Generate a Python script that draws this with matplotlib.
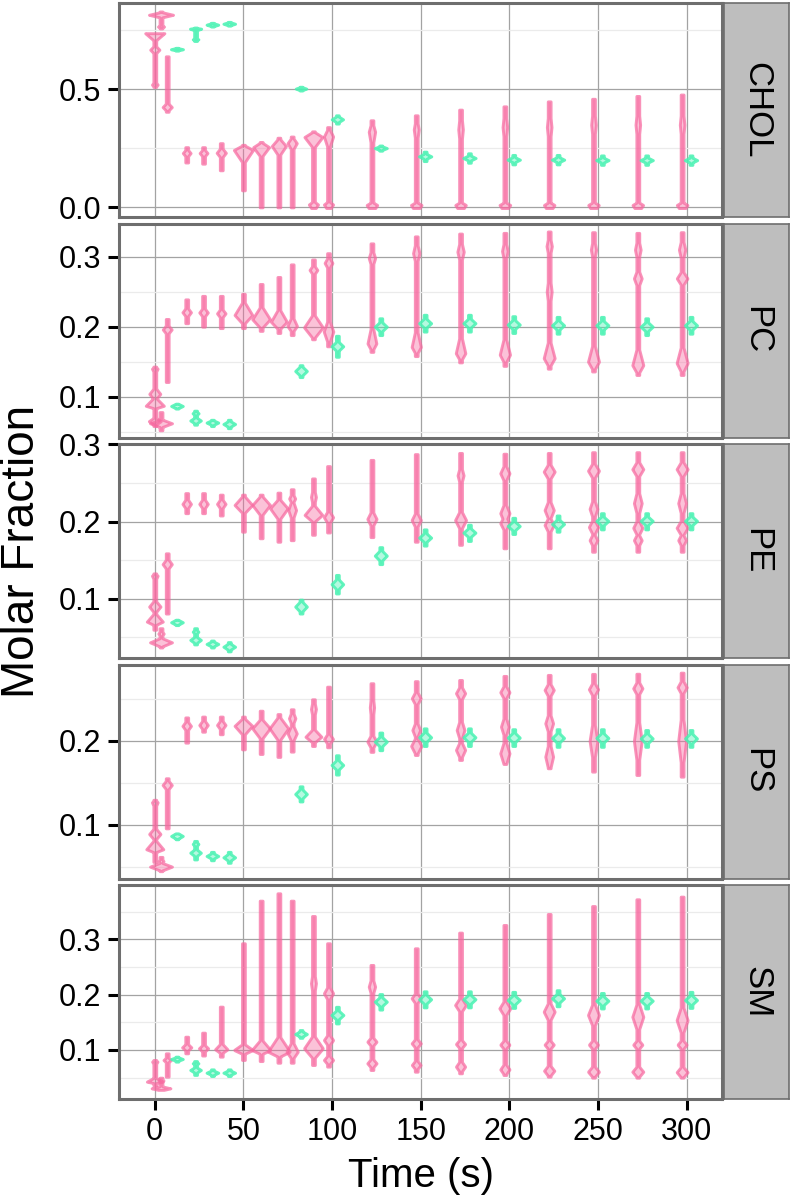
import numpy as np
import matplotlib
matplotlib.use('Agg')
import matplotlib.pyplot as plt
from matplotlib.colors import to_rgba

plt.rcParams['font.family'] = ['Liberation Sans', 'DejaVu Sans']

# time positions of the two series
PINK_T = [0, 3.5, 7, 18, 27.5, 37.5, 50, 60, 70, 77.5, 89.5, 98, 122.5,
          147.5, 172.5, 197.5, 222.5, 247.5, 272.5, 297.5]
GREEN_T = [12.5, 23, 32.5, 42, 82.5, 103, 127.5, 152.5, 177.5, 202.5,
           227.5, 252.5, 277.5, 302.5]

PANELS = ['CHOL', 'PC', 'PE', 'PS', 'SM']

# violins: (ymin, ymax, [(center, halfwidth, halfheight[, halfheight_up]), ...])
CHOL_PINK = [
    (0.51, 0.738, [(0.738, 5.4, 0.035, 0.001), (0.668, 2.6, 0.02), (0.52, 1.6, 0.015)]),
    (0.758, 0.83, [(0.816, 6.8, 0.012), (0.766, 1.7, 0.008)]),
    (0.405, 0.64, [(0.425, 2.6, 0.02)]),
    (0.19, 0.255, [(0.23, 2.2, 0.02)]),
    (0.185, 0.255, [(0.23, 2.2, 0.02)]),
    (0.157, 0.272, [(0.231, 2.6, 0.025)]),
    (0.072, 0.265, [(0.243, 5.4, 0.06, 0.022)]),
    (0.0, 0.277, [(0.255, 4.5, 0.045, 0.022)]),
    (0.0, 0.295, [(0.26, 4.0, 0.045, 0.035)]),
    (0.0, 0.30, [(0.272, 2.6, 0.035, 0.028)]),
    (-0.003, 0.322, [(0.298, 5.1, 0.05, 0.024), (0.012, 2.6, 0.03, 0.015)]),
    (-0.003, 0.34, [(0.30, 2.6, 0.06, 0.04), (0.012, 2.6, 0.03, 0.015)]),
    (-0.003, 0.369, [(0.32, 1.8, 0.08, 0.05), (0.01, 3.0, 0.035, 0.013)]),
    (-0.003, 0.39, [(0.33, 1.4, 0.08, 0.06), (0.01, 3.0, 0.035, 0.013)]),
    (-0.003, 0.414, [(0.33, 1.3, 0.1), (0.01, 3.0, 0.035, 0.013)]),
    (-0.003, 0.428, [(0.34, 1.3, 0.1), (0.01, 3.0, 0.035, 0.013)]),
    (-0.003, 0.449, [(0.34, 1.3, 0.1), (0.01, 3.0, 0.035, 0.013)]),
    (-0.003, 0.46, [(0.35, 1.3, 0.1), (0.01, 3.0, 0.035, 0.013)]),
    (-0.003, 0.472, [(0.35, 1.3, 0.1), (0.01, 3.0, 0.035, 0.013)]),
    (-0.003, 0.478, [(0.35, 1.3, 0.1), (0.01, 3.0, 0.035, 0.013)]),
]
CHOL_GREEN = [
    (0.664, 0.676, [(0.67, 3.4, 0.006)]),
    (0.705, 0.762, [(0.757, 3.2, 0.008, 0.004), (0.712, 1.6, 0.006)]),
    (0.766, 0.782, [(0.774, 3.3, 0.008)]),
    (0.77, 0.786, [(0.778, 3.3, 0.008)]),
    (0.495, 0.511, [(0.503, 3.0, 0.008)]),
    (0.355, 0.39, [(0.373, 3.2, 0.015)]),
    (0.24, 0.262, [(0.251, 3.4, 0.01)]),
    (0.196, 0.236, [(0.216, 3.5, 0.013)]),
    (0.189, 0.229, [(0.209, 3.5, 0.013)]),
    (0.182, 0.222, [(0.202, 3.5, 0.013)]),
    (0.182, 0.222, [(0.202, 3.5, 0.013)]),
    (0.18, 0.22, [(0.20, 3.5, 0.013)]),
    (0.18, 0.22, [(0.20, 3.5, 0.013)]),
    (0.18, 0.22, [(0.20, 3.5, 0.013)]),
]

PC_PINK = [
    (0.058, 0.143, [(0.14, 1.6, 0.008, 0.003), (0.104, 3.1, 0.01), (0.087, 5.1, 0.004, 0.013), (0.065, 3.4, 0.006)]),
    (0.052, 0.078, [(0.062, 6.2, 0.006)]),
    (0.121, 0.211, [(0.196, 2.5, 0.008)]),
    (0.205, 0.239, [(0.2206, 2.4, 0.008)]),
    (0.2, 0.244, [(0.2203, 2.4, 0.008)]),
    (0.198, 0.244, [(0.219, 2.4, 0.008)]),
    (0.198, 0.247, [(0.2167, 5.0, 0.014, 0.021)]),
    (0.194, 0.261, [(0.2106, 5.0, 0.014, 0.02)]),
    (0.191, 0.271, [(0.207, 4.5, 0.012, 0.02)]),
    (0.188, 0.289, [(0.201, 2.7, 0.01, 0.015)]),
    (0.182, 0.296, [(0.281, 2.2, 0.008), (0.199, 5.3, 0.017, 0.02)]),
    (0.172, 0.305, [(0.291, 2.2, 0.01), (0.193, 2.7, 0.02)]),
    (0.164, 0.319, [(0.298, 1.8, 0.015), (0.176, 2.5, 0.012, 0.03)]),
    (0.158, 0.329, [(0.305, 1.8, 0.02), (0.171, 2.6, 0.012, 0.03)]),
    (0.149, 0.333, [(0.307, 1.8, 0.02), (0.162, 2.7, 0.012, 0.03)]),
    (0.144, 0.334, [(0.308, 1.6, 0.02), (0.16, 2.9, 0.014, 0.03)]),
    (0.14, 0.336, [(0.315, 1.5, 0.02), (0.25, 1.4, 0.03), (0.155, 3.1, 0.014, 0.03)]),
    (0.136, 0.335, [(0.31, 1.5, 0.02), (0.15, 3.1, 0.014, 0.03)]),
    (0.131, 0.334, [(0.31, 1.6, 0.02), (0.269, 2.2, 0.015), (0.145, 3.1, 0.014, 0.03)]),
    (0.131, 0.335, [(0.31, 1.8, 0.02), (0.269, 3.0, 0.012), (0.148, 3.1, 0.016, 0.03)]),
]
PC_GREEN = [
    (0.083, 0.09, [(0.0867, 3.3, 0.004)]),
    (0.06, 0.08, [(0.0763, 1.7, 0.004), (0.066, 3.0, 0.005)]),
    (0.058, 0.067, [(0.063, 3.3, 0.004)]),
    (0.055, 0.067, [(0.061, 3.3, 0.005)]),
    (0.128, 0.145, [(0.1367, 3.3, 0.008)]),
    (0.157, 0.187, [(0.172, 3.3, 0.008)]),
    (0.188, 0.212, [(0.20, 3.4, 0.008)]),
    (0.193, 0.217, [(0.205, 3.4, 0.008)]),
    (0.193, 0.217, [(0.205, 3.4, 0.008)]),
    (0.191, 0.215, [(0.203, 3.4, 0.008)]),
    (0.19, 0.214, [(0.202, 3.4, 0.008)]),
    (0.19, 0.214, [(0.202, 3.4, 0.008)]),
    (0.188, 0.212, [(0.20, 3.4, 0.008)]),
    (0.19, 0.214, [(0.202, 3.4, 0.008)]),
]

PE_PINK = [
    (0.06, 0.133, [(0.13, 1.6, 0.008, 0.003), (0.09, 3.2, 0.009), (0.0705, 4.5, 0.005, 0.012)]),
    (0.037, 0.062, [(0.0437, 6.2, 0.006), (0.055, 1.5, 0.005)]),
    (0.081, 0.159, [(0.145, 2.6, 0.008)]),
    (0.211, 0.237, [(0.223, 2.4, 0.008)]),
    (0.211, 0.237, [(0.223, 2.4, 0.008)]),
    (0.208, 0.235, [(0.223, 2.4, 0.008)]),
    (0.187, 0.235, [(0.2216, 5.0, 0.012, 0.013)]),
    (0.1785, 0.235, [(0.2216, 5.0, 0.015, 0.013)]),
    (0.174, 0.2376, [(0.2173, 5.0, 0.016, 0.013)]),
    (0.176, 0.242, [(0.215, 2.2, 0.015), (0.23, 1.7, 0.008)]),
    (0.183, 0.256, [(0.232, 1.4, 0.015), (0.2087, 5.0, 0.01, 0.014)]),
    (0.186, 0.272, [(0.2057, 2.6, 0.01)]),
    (0.18, 0.28, [(0.2035, 2.6, 0.012)]),
    (0.174, 0.2875, [(0.202, 2.6, 0.012)]),
    (0.17, 0.289, [(0.26, 1.7, 0.015), (0.202, 3.1, 0.014)]),
    (0.1655, 0.288, [(0.2627, 2.6, 0.013), (0.211, 2.6, 0.015), (0.198, 2.6, 0.012)]),
    (0.1655, 0.289, [(0.2648, 3.1, 0.012), (0.215, 2.6, 0.015), (0.1957, 2.6, 0.012)]),
    (0.161, 0.29, [(0.266, 3.1, 0.012), (0.2166, 2.2, 0.015), (0.193, 2.6, 0.012), (0.176, 2.2, 0.01)]),
    (0.161, 0.29, [(0.268, 3.1, 0.012), (0.224, 2.2, 0.02), (0.192, 2.6, 0.012), (0.176, 2.2, 0.01)]),
    (0.161, 0.29, [(0.268, 3.1, 0.012), (0.224, 2.2, 0.02), (0.192, 3.1, 0.012), (0.176, 2.2, 0.01)]),
]
PE_GREEN = [
    (0.066, 0.073, [(0.0697, 3.3, 0.004)]),
    (0.041, 0.062, [(0.0575, 1.6, 0.004), (0.0468, 3.0, 0.005)]),
    (0.037, 0.046, [(0.0416, 3.3, 0.004)]),
    (0.032, 0.044, [(0.038, 3.3, 0.005)]),
    (0.081, 0.099, [(0.09, 3.3, 0.008)]),
    (0.107, 0.131, [(0.119, 3.3, 0.008)]),
    (0.145, 0.167, [(0.156, 3.4, 0.008)]),
    (0.169, 0.19, [(0.1793, 3.4, 0.007)]),
    (0.175, 0.196, [(0.1858, 3.4, 0.007)]),
    (0.184, 0.205, [(0.1944, 3.4, 0.007)]),
    (0.187, 0.208, [(0.197, 3.4, 0.007)]),
    (0.19, 0.211, [(0.2009, 3.4, 0.007)]),
    (0.19, 0.211, [(0.201, 3.4, 0.007)]),
    (0.19, 0.211, [(0.201, 3.4, 0.007)]),
]

PS_PINK = [
    (0.056, 0.13, [(0.127, 1.6, 0.008, 0.003), (0.0893, 3.2, 0.008), (0.0711, 4.8, 0.004, 0.012)]),
    (0.045, 0.062, [(0.0504, 6.2, 0.005), (0.057, 1.4, 0.004)]),
    (0.096, 0.1556, [(0.1476, 2.6, 0.007)]),
    (0.198, 0.228, [(0.2179, 2.4, 0.007)]),
    (0.211, 0.229, [(0.219, 2.4, 0.007)]),
    (0.208, 0.229, [(0.219, 2.4, 0.007)]),
    (0.19, 0.229, [(0.218, 5.0, 0.012, 0.01)]),
    (0.1845, 0.236, [(0.2151, 5.0, 0.014, 0.012)]),
    (0.181, 0.232, [(0.215, 5.3, 0.016, 0.015)]),
    (0.1873, 0.2377, [(0.209, 2.6, 0.012), (0.227, 1.8, 0.01)]),
    (0.194, 0.2496, [(0.238, 1.4, 0.015), (0.205, 4.5, 0.008, 0.01)]),
    (0.1925, 0.2646, [(0.2024, 2.5, 0.008)]),
    (0.187, 0.2687, [(0.1992, 2.6, 0.01), (0.24, 1.2, 0.025)]),
    (0.1833, 0.2712, [(0.2508, 2.5, 0.01), (0.213, 2.2, 0.012), (0.194, 2.9, 0.012)]),
    (0.1774, 0.2726, [(0.2568, 2.6, 0.01), (0.213, 2.2, 0.015), (0.1893, 2.6, 0.012)]),
    (0.1726, 0.2774, [(0.258, 2.6, 0.01), (0.217, 2.2, 0.015), (0.1853, 2.6, 0.018)]),
    (0.1675, 0.2786, [(0.2607, 2.6, 0.01), (0.221, 2.2, 0.015), (0.1813, 2.2, 0.02)]),
    (0.1635, 0.2798, [(0.2615, 2.6, 0.01), (0.2, 2.2, 0.03)]),
    (0.1595, 0.28, [(0.2627, 2.6, 0.01), (0.2, 2.2, 0.035)]),
    (0.1575, 0.2813, [(0.2639, 2.6, 0.01), (0.2, 2.2, 0.04)]),
]
PS_GREEN = [
    (0.083, 0.09, [(0.0869, 3.3, 0.004)]),
    (0.059, 0.081, [(0.0774, 1.6, 0.004), (0.067, 3.0, 0.005)]),
    (0.058, 0.068, [(0.0631, 3.3, 0.004)]),
    (0.055, 0.068, [(0.0615, 3.3, 0.005)]),
    (0.128, 0.146, [(0.1369, 3.3, 0.007)]),
    (0.16, 0.183, [(0.1714, 3.3, 0.007)]),
    (0.189, 0.21, [(0.1992, 3.4, 0.007)]),
    (0.194, 0.215, [(0.2044, 3.4, 0.007)]),
    (0.194, 0.215, [(0.2044, 3.4, 0.007)]),
    (0.194, 0.214, [(0.204, 3.4, 0.007)]),
    (0.193, 0.214, [(0.2036, 3.4, 0.007)]),
    (0.193, 0.214, [(0.2036, 3.4, 0.007)]),
    (0.193, 0.213, [(0.203, 3.4, 0.007)]),
    (0.193, 0.213, [(0.203, 3.4, 0.007)]),
]

SM_PINK = [
    (0.036, 0.082, [(0.079, 1.5, 0.008, 0.003), (0.0428, 4.5, 0.003, 0.008)]),
    (0.028, 0.05, [(0.0308, 5.3, 0.004), (0.045, 1.4, 0.004)]),
    (0.0518, 0.094, [(0.0819, 2.1, 0.006)]),
    (0.094, 0.124, [(0.1048, 2.6, 0.008)]),
    (0.09, 0.1313, [(0.103, 2.6, 0.008)]),
    (0.088, 0.1783, [(0.1012, 3.5, 0.008, 0.012)]),
    (0.082, 0.2928, [(0.1, 5.3, 0.008, 0.012)]),
    (0.08, 0.3697, [(0.1, 5.3, 0.008, 0.02)]),
    (0.077, 0.383, [(0.097, 6.2, 0.01, 0.03)]),
    (0.077, 0.3697, [(0.097, 3.2, 0.015, 0.02)]),
    (0.0729, 0.342, [(0.103, 5.3, 0.02, 0.025), (0.2205, 1.4, 0.03)]),
    (0.07, 0.2928, [(0.2024, 2.6, 0.015), (0.118, 2.6, 0.012), (0.082, 2.6, 0.01)]),
    (0.0639, 0.2536, [(0.2144, 1.8, 0.02), (0.115, 2.6, 0.01), (0.076, 2.6, 0.01)]),
    (0.0608, 0.2837, [(0.1934, 2.6, 0.012), (0.112, 2.6, 0.01), (0.073, 2.5, 0.01)]),
    (0.0579, 0.312, [(0.1813, 3.1, 0.015), (0.1108, 2.6, 0.01), (0.07, 2.6, 0.012)]),
    (0.0548, 0.3258, [(0.1753, 3.1, 0.016), (0.1096, 2.6, 0.01), (0.065, 2.6, 0.012)]),
    (0.0518, 0.3457, [(0.1692, 3.1, 0.02), (0.1096, 2.6, 0.01), (0.0626, 2.9, 0.012)]),
    (0.05, 0.36, [(0.1632, 3.1, 0.025), (0.1096, 2.6, 0.01), (0.0608, 3.1, 0.012)]),
    (0.05, 0.3722, [(0.16, 3.1, 0.03), (0.1096, 2.6, 0.01), (0.0608, 3.1, 0.012)]),
    (0.05, 0.377, [(0.154, 3.1, 0.03), (0.1096, 2.6, 0.01), (0.06, 3.1, 0.012)]),
]
SM_GREEN = [
    (0.079, 0.088, [(0.0837, 3.3, 0.004)]),
    (0.055, 0.08, [(0.076, 1.6, 0.004), (0.0639, 3.0, 0.006)]),
    (0.053, 0.065, [(0.059, 3.3, 0.005)]),
    (0.053, 0.065, [(0.059, 3.3, 0.005)]),
    (0.122, 0.136, [(0.1289, 3.3, 0.006)]),
    (0.148, 0.178, [(0.1632, 3.4, 0.01)]),
    (0.173, 0.201, [(0.1873, 3.4, 0.01)]),
    (0.177, 0.206, [(0.1916, 3.4, 0.01)]),
    (0.177, 0.206, [(0.1916, 3.4, 0.01)]),
    (0.176, 0.205, [(0.1903, 3.4, 0.01)]),
    (0.179, 0.208, [(0.1934, 3.4, 0.01)]),
    (0.175, 0.203, [(0.189, 3.4, 0.01)]),
    (0.175, 0.203, [(0.189, 3.4, 0.01)]),
    (0.176, 0.205, [(0.1903, 3.4, 0.01)]),
]

PINK = {'CHOL': CHOL_PINK, 'PC': PC_PINK, 'PE': PE_PINK, 'PS': PS_PINK, 'SM': SM_PINK}
GREEN = {'CHOL': CHOL_GREEN, 'PC': PC_GREEN, 'PE': PE_GREEN, 'PS': PS_GREEN, 'SM': SM_GREEN}

YLIMS = {'CHOL': (-0.041, 0.866), 'PC': (0.0417, 0.3474), 'PE': (0.0234, 0.3006),
         'PS': (0.0363, 0.291), 'SM': (0.0115, 0.398)}
YTICKS = {'CHOL': [0.0, 0.5], 'PC': [0.1, 0.2, 0.3], 'PE': [0.1, 0.2, 0.3],
          'PS': [0.1, 0.2], 'SM': [0.1, 0.2, 0.3]}
YMINOR = {'CHOL': [0.25, 0.75], 'PC': [0.05, 0.15, 0.25], 'PE': [0.05, 0.15, 0.25],
          'PS': [0.05, 0.15, 0.25], 'SM': [0.05, 0.15, 0.25, 0.35]}
XTICKS = [0, 50, 100, 150, 200, 250, 300]

PINK_COL = '#F7689F'
GREEN_COL = '#48F2B2'
STEM = 0.8


def draw_violins(ax, times, shapes, color, edge_alpha):
    for t, (lo, hi, bulges) in zip(times, shapes):
        ys = np.linspace(lo, hi, 300)
        w = np.full(ys.shape, STEM)
        for b in bulges:
            c, hw, hd = b[0], b[1], b[2]
            hu = b[3] if len(b) > 3 else hd
            d = np.where(ys < c, (c - ys) / hd, (ys - c) / hu)
            w = np.maximum(w, hw * np.clip(1 - d, 0, 1))
        ax.fill_betweenx(ys, t - w, t + w, facecolor=to_rgba(color, 0.4),
                         edgecolor=to_rgba(color, edge_alpha), linewidth=2.1,
                         joinstyle='round', capstyle='round')


W, H = 792, 1203
fig = plt.figure(figsize=(W / 100, H / 100), dpi=100)
left, right = 119, 722
ph = 214
for i, name in enumerate(PANELS):
    top = 3 + i * 220.5
    box = [left / W, 1 - (top + ph) / H, (right - left) / W, ph / H]
    ax = fig.add_axes(box)
    ax.set_xlim(-20.2, 320)
    ax.set_ylim(*YLIMS[name])
    ax.set_yticks(YTICKS[name])
    ax.set_yticks(YMINOR[name], minor=True)
    ax.set_xticks(XTICKS)
    ax.set_yticklabels(['%.1f' % v for v in YTICKS[name]])
    ax.grid(True, which='major', color='#A3A3A3', lw=0.9)
    ax.grid(True, which='minor', axis='y', color='#EBEBEB', lw=0.9)
    ax.set_axisbelow(True)
    ax.tick_params(which='major', length=8, width=2.2, color='black',
                   labelsize=22, pad=5)
    ax.tick_params(which='minor', length=0)
    if i < len(PANELS) - 1:
        ax.tick_params(axis='x', labelbottom=False, length=0)
    for sp in ax.spines.values():
        sp.set_color('#6E6E6E')
        sp.set_linewidth(2.2)

    draw_violins(ax, PINK_T, PINK[name], PINK_COL, 0.72)
    draw_violins(ax, GREEN_T, GREEN[name], GREEN_COL, 0.85)

    sax = fig.add_axes([724 / W, 1 - (top + ph) / H, (789 - 724) / W, ph / H])
    sax.set_facecolor('#BEBEBE')
    sax.set_xticks([])
    sax.set_yticks([])
    for sp in sax.spines.values():
        sp.set_color('#6E6E6E')
        sp.set_linewidth(1.2)
    sax.text(0.5, 0.5, name, rotation=-90, ha='center', va='center',
             fontsize=25, transform=sax.transAxes)

fig.text(22 / W, 1 - 551 / H, 'Molar Fraction', rotation=90, ha='center',
         va='center', fontsize=33)
fig.text((left + right) / 2 / W, 1 - 1176 / H, 'Time (s)', ha='center',
         va='center', fontsize=29)

fig.savefig('out.png', dpi=100)
